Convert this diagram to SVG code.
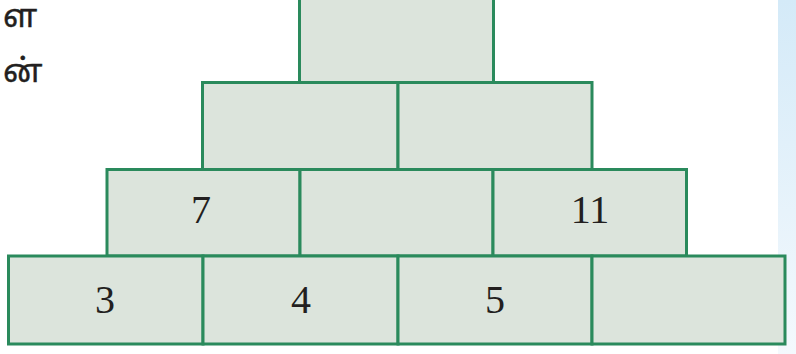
<svg xmlns="http://www.w3.org/2000/svg" width="796" height="354" viewBox="0 0 796 354">
<defs>
<linearGradient id="side" x1="0" y1="0" x2="0" y2="1">
<stop offset="0" stop-color="#d4eaf8"/>
<stop offset="1" stop-color="#f4f9fd"/>
</linearGradient>
<style>
.cell{fill:#dce4dc;stroke:#2a8a5c;stroke-width:3}
.num{font-family:"Liberation Serif","Times New Roman",serif;font-size:40px;fill:#231f20;text-anchor:middle}
.ta{font-family:"Noto Sans Tamil","Noto Sans","Lato",sans-serif;font-size:32px;fill:#231f20;stroke:#231f20;stroke-width:0.4}
</style>
</defs>
<rect width="796" height="354" fill="#ffffff"/>
<rect x="778" y="0" width="18" height="354" fill="url(#side)"/>
<text class="ta" x="3" y="27">ள</text>
<text class="ta" x="3" y="82">ன்</text>
<g id="connectors"/>
<g id="row1">
<g id="c1"><rect class="cell" x="299.5" y="-2" width="194" height="84.5"/></g>
</g>
<g id="row2">
<g id="c2a"><rect class="cell" x="202.5" y="82.5" width="195.5" height="87"/></g>
<g id="c2b"><rect class="cell" x="398" y="82.5" width="194" height="87"/></g>
</g>
<g id="row3">
<g id="c3a"><rect class="cell" x="107" y="169.5" width="193" height="86.5"/><text class="num" x="201" y="223">7</text></g>
<g id="c3b"><rect class="cell" x="300" y="169.5" width="193" height="86.5"/></g>
<g id="c3c"><rect class="cell" x="493" y="169.5" width="193.5" height="86.5"/><text class="num" x="590" y="223">11</text></g>
</g>
<g id="row4">
<g id="c4a"><rect class="cell" x="8.5" y="256" width="194.5" height="88"/><text class="num" x="105" y="313">3</text></g>
<g id="c4b"><rect class="cell" x="203" y="256" width="195" height="88"/><text class="num" x="301" y="313">4</text></g>
<g id="c4c"><rect class="cell" x="398" y="256" width="194" height="88"/><text class="num" x="495" y="313">5</text></g>
<g id="c4d"><rect class="cell" x="592" y="256" width="193" height="88"/></g>
</g>
</svg>
